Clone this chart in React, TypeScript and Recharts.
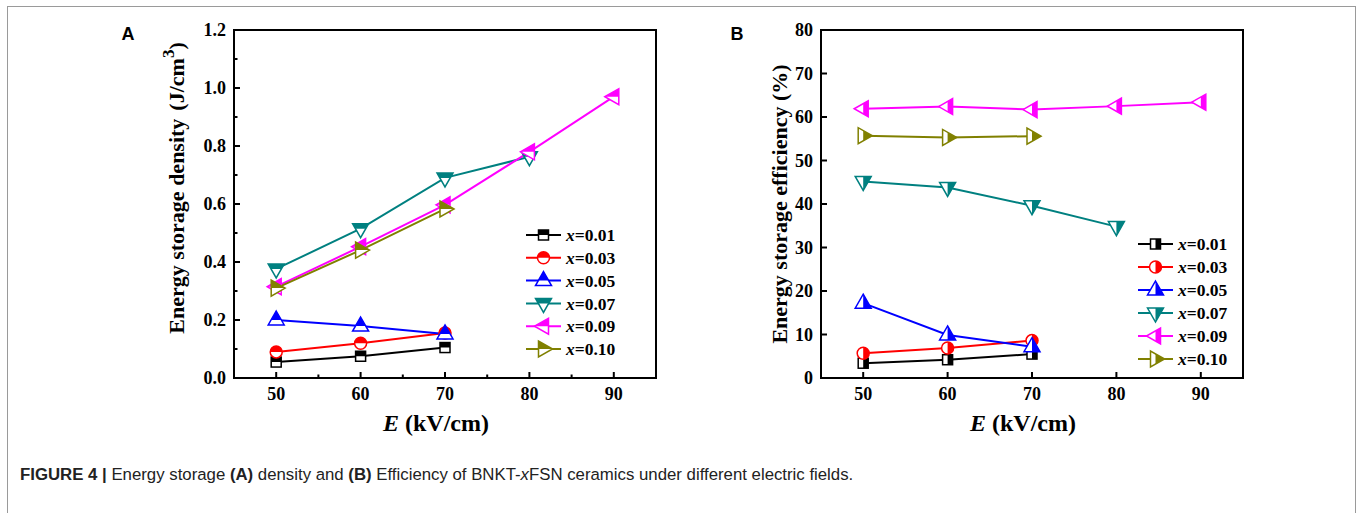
import React from 'react';
import { LineChart, Line, XAxis, YAxis, ReferenceArea, Legend } from 'recharts';

const SERIF = "'Times New Roman', 'Liberation Serif', serif";
const SANS = "Arial, 'Liberation Sans', sans-serif";

const fieldValues = [50, 60, 70, 80, 90];

const seriesLabels = ['0.01', '0.03', '0.05', '0.07', '0.09', '0.10'];
const seriesKeys = ['s001', 's003', 's005', 's007', 's009', 's010'];
const seriesColors = ['#000000', '#ff0000', '#0000ff', '#008080', '#ff00ff', '#808000'];
const seriesShapes = ['square', 'circle', 'up', 'down', 'left', 'right'];

// Panel A: energy storage density (J/cm3)
const densityS001 = [0.055, 0.075, 0.105, null, null];
const densityS003 = [0.09, 0.12, 0.155, null, null];
const densityS005 = [0.2, 0.179, 0.152, null, null];
const densityS007 = [0.376, 0.515, 0.69, 0.763, null];
const densityS009 = [0.315, 0.453, 0.597, 0.78, 0.97];
const densityS010 = [0.31, 0.441, 0.583, null, null];

// Panel B: energy storage efficiency (%)
const efficiencyS001 = [3.4, 4.2, 5.5, null, null];
const efficiencyS003 = [5.7, 6.9, 8.6, null, null];
const efficiencyS005 = [17.2, 9.9, 7.2, null, null];
const efficiencyS007 = [45.2, 43.8, 39.6, 34.8, null];
const efficiencyS009 = [61.9, 62.4, 61.7, 62.5, 63.4];
const efficiencyS010 = [55.7, 55.3, 55.6, null, null];

const densityYTicks = [0, 0.1, 0.2, 0.3, 0.4, 0.5, 0.6, 0.7, 0.8, 0.9, 1.0, 1.1, 1.2];
const densityXTicks = [50, 55, 60, 65, 70, 75, 80, 85, 90];
const efficiencyYTicks = [0, 10, 20, 30, 40, 50, 60, 70, 80];
const efficiencyXTicks = [50, 60, 70, 80, 90];

function buildRows(arrays: (number | null)[][]) {
  return fieldValues.map((f, i) => {
    const row: any = { field: f };
    seriesKeys.forEach((k, j) => {
      row[k] = arrays[j][i];
    });
    return row;
  });
}

const densityRows = buildRows([densityS001, densityS003, densityS005, densityS007, densityS009, densityS010]);
const efficiencyRows = buildRows([
  efficiencyS001,
  efficiencyS003,
  efficiencyS005,
  efficiencyS007,
  efficiencyS009,
  efficiencyS010,
]);

function shapeEl(shape: string, cx: number, cy: number, props: any) {
  switch (shape) {
    case 'square':
      return <rect x={cx - 5} y={cy - 5} width={10} height={10} {...props} />;
    case 'circle':
      return <circle cx={cx} cy={cy} r={6} {...props} />;
    case 'up':
      return <polygon points={`${cx},${cy - 9} ${cx + 8},${cy + 5} ${cx - 8},${cy + 5}`} {...props} />;
    case 'down':
      return <polygon points={`${cx - 8},${cy - 5} ${cx + 8},${cy - 5} ${cx},${cy + 9}`} {...props} />;
    case 'left':
      return <polygon points={`${cx - 9},${cy} ${cx + 5},${cy - 8} ${cx + 5},${cy + 8}`} {...props} />;
    default:
      return <polygon points={`${cx + 9},${cy} ${cx - 5},${cy - 8} ${cx - 5},${cy + 8}`} {...props} />;
  }
}

function Marker({ cx, cy, shape, color, half, clipId }: any) {
  const clipRect =
    half === 'top' ? (
      <rect x={cx - 12} y={cy - 12} width={24} height={12} />
    ) : (
      <rect x={cx} y={cy - 12} width={12} height={24} />
    );
  return (
    <g>
      <defs>
        <clipPath id={clipId}>{clipRect}</clipPath>
      </defs>
      {shapeEl(shape, cx, cy, { fill: '#ffffff', stroke: 'none' })}
      {shapeEl(shape, cx, cy, { fill: color, stroke: 'none', clipPath: `url(#${clipId})` })}
      {shapeEl(shape, cx, cy, { fill: 'none', stroke: color, strokeWidth: 1.5 })}
    </g>
  );
}

function LegendBlock({ half, spacing, idPrefix }: any) {
  return (
    <svg width={150} height={spacing * 6 + 6} style={{ overflow: 'visible', display: 'block' }}>
      {seriesKeys.map((k, i) => {
        const cy = 11 + i * spacing;
        return (
          <g key={k}>
            <line x1={2} x2={37} y1={cy} y2={cy} stroke={seriesColors[i]} strokeWidth={2} />
            <Marker cx={19.5} cy={cy} shape={seriesShapes[i]} color={seriesColors[i]} half={half} clipId={`${idPrefix}-leg-${i}`} />
            <text x={42} y={cy} dy="0.35em" fontFamily={SERIF} fontWeight="bold" fontSize={17.5} fill="#000">
              <tspan fontStyle="italic">x</tspan>={seriesLabels[i]}
            </text>
          </g>
        );
      })}
    </svg>
  );
}

function makeXTick(isMajor: (v: number) => boolean) {
  return (props: any) => {
    const { x, y, payload } = props;
    const v = payload.value;
    const major = isMajor(v);
    return (
      <g>
        <line x1={x} x2={x} y1={y} y2={y - (major ? 6 : 3.5)} stroke="#000" strokeWidth={2} />
        {major && (
          <text x={x} y={y + 22} textAnchor="middle" fontFamily={SERIF} fontWeight="bold" fontSize={18} fill="#000">
            {v}
          </text>
        )}
      </g>
    );
  };
}

function makeYTick(isMajor: (v: number) => boolean, fmt: (v: number) => string) {
  return (props: any) => {
    const { x, y, payload } = props;
    const v = payload.value;
    const major = isMajor(v);
    return (
      <g>
        <line x1={x} x2={x + (major ? 6 : 3.5)} y1={y} y2={y} stroke="#000" strokeWidth={2} />
        {major && (
          <text x={x - 8} y={y} dy="0.35em" textAnchor="end" fontFamily={SERIF} fontWeight="bold" fontSize={18} fill="#000">
            {fmt(v)}
          </text>
        )}
      </g>
    );
  };
}

function Panel({
  rows,
  yDomain,
  yTicks,
  xTicks,
  xMajor,
  yMajor,
  yFmt,
  half,
  idPrefix,
  yTitle,
  titleOffsetX,
  titleOffsetY,
  legendLeft,
  legendTop,
  legendSpacing,
}: any) {
  const yLabel = (props: any) => {
    const vb = props.viewBox || {};
    const tx = vb.x + titleOffsetX;
    const ty = vb.y + vb.height / 2 + titleOffsetY;
    return (
      <text
        x={tx}
        y={ty}
        transform={`rotate(-90 ${tx} ${ty})`}
        textAnchor="middle"
        fontFamily={SERIF}
        fontWeight="bold"
        fontSize={22}
        fill="#000"
      >
        {yTitle}
      </text>
    );
  };
  const xLabel = (props: any) => {
    const vb = props.viewBox || {};
    const tx = vb.x + vb.width / 2 - 9;
    const ty = vb.y + 53;
    return (
      <text x={tx} y={ty} textAnchor="middle" fontFamily={SERIF} fontWeight="bold" fontSize={24} fill="#000">
        <tspan fontStyle="italic">E</tspan> (kV/cm)
      </text>
    );
  };
  return (
    <LineChart width={540} height={440} data={rows} margin={{ top: 30, right: 14, bottom: 0, left: 0 }}>
      <ReferenceArea
        x1={45}
        x2={95}
        y1={yDomain[0]}
        y2={yDomain[1]}
        fill="none"
        stroke="#000"
        strokeWidth={2}
        ifOverflow="visible"
      />
      <XAxis
        dataKey="field"
        type="number"
        domain={[45, 95]}
        ticks={xTicks}
        interval={0}
        tickSize={0}
        tickMargin={0}
        tickLine={false}
        axisLine={{ stroke: '#000', strokeWidth: 2 }}
        tick={makeXTick(xMajor)}
        height={62}
        label={{ content: xLabel } as any}
      />
      <YAxis
        type="number"
        domain={yDomain}
        ticks={yTicks}
        interval={0}
        tickSize={0}
        tickMargin={0}
        tickLine={false}
        axisLine={{ stroke: '#000', strokeWidth: 2 }}
        tick={makeYTick(yMajor, yFmt)}
        width={104}
        label={{ content: yLabel } as any}
      />
      {seriesKeys.map((k, i) => (
        <Line
          key={k}
          dataKey={k}
          type="linear"
          stroke={seriesColors[i]}
          strokeWidth={2}
          isAnimationActive={false}
          connectNulls={false}
          dot={(p: any) => {
            const key = `${idPrefix}-${k}-${p.index}`;
            if (p.cx == null || p.cy == null || p.value == null || (Array.isArray(p.value) && p.value[1] == null)) {
              return <g key={key} />;
            }
            return (
              <g key={key}>
                <Marker cx={p.cx} cy={p.cy} shape={seriesShapes[i]} color={seriesColors[i]} half={half} clipId={key} />
              </g>
            );
          }}
          activeDot={false}
        />
      ))}
      <Legend
        layout="vertical"
        align="center"
        verticalAlign="middle"
        wrapperStyle={{ left: legendLeft, top: legendTop, width: 150 }}
        content={() => <LegendBlock half={half} spacing={legendSpacing} idPrefix={idPrefix} />}
      />
    </LineChart>
  );
}

export default function App() {
  const densityTitle = (
    <>
      Energy storage density
      <tspan dx={8}>(J/cm</tspan>
      <tspan dy={-10} fontSize={17}>
        3
      </tspan>
      <tspan dy={10}>)</tspan>
    </>
  );
  return (
    <div style={{ position: 'absolute', left: 0, top: 0, width: 1362, height: 513, background: '#fff', overflow: 'hidden' }}>
      <div
        style={{
          position: 'absolute',
          left: 7,
          top: 6,
          width: 1349,
          height: 520,
          border: '1px solid #9a9a9a',
          boxSizing: 'border-box',
        }}
      />
      <div style={{ position: 'absolute', left: 130, top: 0 }}>
        <Panel
          rows={densityRows}
          yDomain={[0, 1.2]}
          yTicks={densityYTicks}
          xTicks={densityXTicks}
          xMajor={(v: number) => v % 10 === 0}
          yMajor={(v: number) => Math.round(v * 10) % 2 === 0}
          yFmt={(v: number) => v.toFixed(1)}
          half="top"
          idPrefix="pa"
          yTitle={densityTitle}
          titleOffsetX={54}
          titleOffsetY={-16}
          legendLeft={394}
          legendTop={224}
          legendSpacing={22.8}
        />
      </div>
      <div style={{ position: 'absolute', left: 717, top: 0 }}>
        <Panel
          rows={efficiencyRows}
          yDomain={[0, 80]}
          yTicks={efficiencyYTicks}
          xTicks={efficiencyXTicks}
          xMajor={() => true}
          yMajor={() => true}
          yFmt={(v: number) => String(v)}
          half="right"
          idPrefix="pb"
          yTitle={'Energy storage efficiency (%)'}
          titleOffsetX={70}
          titleOffsetY={0}
          legendLeft={419}
          legendTop={233}
          legendSpacing={23}
        />
      </div>
      <svg width={1362} height={513} style={{ position: 'absolute', left: 0, top: 0, pointerEvents: 'none' }}>
        <text x={128} y={40} textAnchor="middle" fontFamily={SANS} fontWeight="bold" fontSize={18} fill="#000">
          A
        </text>
        <text x={737} y={40} textAnchor="middle" fontFamily={SANS} fontWeight="bold" fontSize={18} fill="#000">
          B
        </text>
        <text x={20} y={480} fontFamily={SANS} fontSize={16.8} fill="#222">
          <tspan fontWeight="bold">FIGURE 4 |</tspan> Energy storage <tspan fontWeight="bold">(A)</tspan> density and{' '}
          <tspan fontWeight="bold">(B)</tspan> Efficiency of BNKT-<tspan fontStyle="italic">x</tspan>FSN ceramics under different
          electric fields.
        </text>
      </svg>
    </div>
  );
}
